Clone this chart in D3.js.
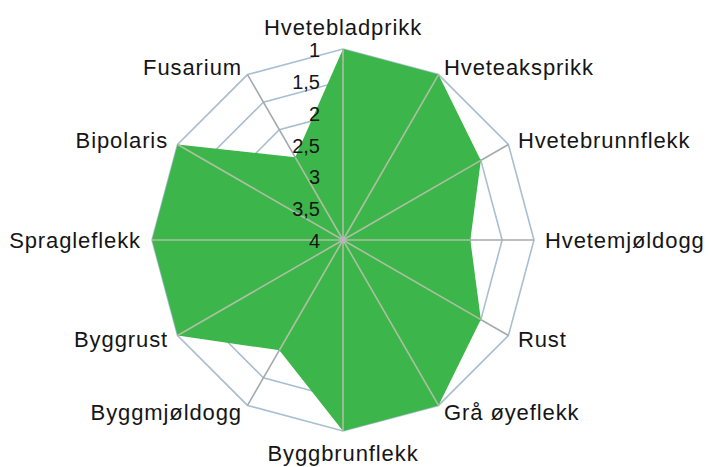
<!DOCTYPE html>
<html>
<head>
<meta charset="utf-8">
<script src="https://cdn.jsdelivr.net/npm/d3@7"></script>
<style>
  body { margin: 0; background: #fff; }
  text { font-family: "Liberation Sans", Arial, sans-serif; fill: #151515; }
</style>
</head>
<body>
<script>
// categories clockwise from the top
var categories = ["Hvetebladprikk", "Hveteaksprikk", "Hvetebrunnflekk", "Hvetemjøldogg",
  "Rust", "Grå øyeflekk", "Byggbrunflekk", "Byggmjøldogg", "Byggrust",
  "Spragleflekk", "Bipolaris", "Fusarium"];
var values = [1, 1, 1.5, 2, 1.5, 1, 1, 2, 1, 1, 1, 2.5];
var ticks = [1, 1.5, 2, 2.5, 3, 3.5, 4];
var tickLabels = ["1", "1,5", "2", "2,5", "3", "3,5", "4"];

var width = 710, height = 467;
var cx = 343, cy = 240, R = 191;

var svg = d3.select("body").append("svg")
    .attr("width", width)
    .attr("height", height);

// 4 in the middle, 1 on the outer ring
var r = d3.scaleLinear().domain([4, 1]).range([0, R]);
var angle = d3.scaleLinear().domain([0, categories.length]).range([0, 2 * Math.PI]);

function pt(i, v) {
  var a = angle(i);
  return [cx + r(v) * Math.sin(a), cy - r(v) * Math.cos(a)];
}

var line = d3.line().curve(d3.curveLinearClosed);

// rings
svg.append("g").selectAll("path")
    .data(ticks.filter(function(t) { return t < 4; }))
  .enter().append("path")
    .attr("d", function(t) { return line(categories.map(function(c, i) { return pt(i, t); })); })
    .attr("fill", "none")
    .attr("stroke", "#a8bfd0")
    .attr("stroke-width", 1.6);

// spokes under the fill
svg.append("g").selectAll("line")
    .data(categories)
  .enter().append("line")
    .attr("x1", cx).attr("y1", cy)
    .attr("x2", function(d, i) { return pt(i, 1)[0]; })
    .attr("y2", function(d, i) { return pt(i, 1)[1]; })
    .attr("stroke", "#a4aab0")
    .attr("stroke-width", 1.6);

// the series
svg.append("path")
    .attr("d", line(values.map(function(v, i) { return pt(i, v); })))
    .attr("fill", "#3cb54a");

// spokes seen through the fill
svg.append("g").selectAll("line")
    .data(values)
  .enter().append("line")
    .attr("x1", cx).attr("y1", cy)
    .attr("x2", function(v, i) { return pt(i, v)[0]; })
    .attr("y2", function(v, i) { return pt(i, v)[1]; })
    .attr("stroke", "#aebfa2")
    .attr("stroke-width", 1.6);

svg.append("circle")
    .attr("cx", cx).attr("cy", cy).attr("r", 3)
    .attr("fill", "#b8b4c4");

// tick labels along the top spoke
svg.append("g").selectAll("text")
    .data(ticks)
  .enter().append("text")
    .attr("x", cx - 23)
    .attr("y", function(t) { return cy - r(t); })
    .attr("dy", "0.4em")
    .attr("text-anchor", "end")
    .style("font-size", "20px")
    .text(function(t, i) { return tickLabels[i]; });

// category labels
svg.append("g").selectAll("text")
    .data(categories)
  .enter().append("text")
    .attr("x", function(d, i) { return cx + (R + 11) * Math.sin(angle(i)); })
    .attr("y", function(d, i) {
      var s = Math.sin(angle(i)), c = Math.cos(angle(i));
      return cy - (R + 8) * c - (Math.abs(s) < 0.1 ? c * 14 : 0);
    })
    .attr("dy", "0.35em")
    .attr("text-anchor", function(d, i) {
      var s = Math.sin(angle(i));
      return s > 0.1 ? "start" : s < -0.1 ? "end" : "middle";
    })
    .style("font-size", "22px")
    .style("letter-spacing", "0.9px")
    .text(function(d) { return d; });
</script>
</body>
</html>
